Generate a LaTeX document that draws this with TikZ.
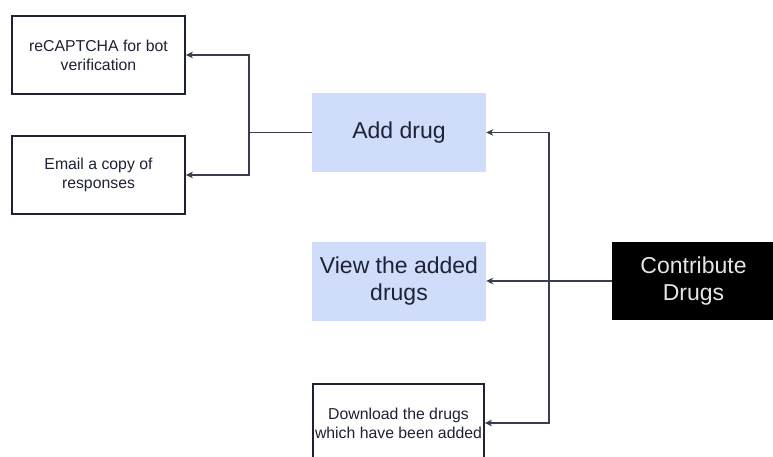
\documentclass[tikz,border=0pt]{standalone}
\usepackage{fontspec}
\setmainfont{Liberation Sans}
\usetikzlibrary{arrows.meta}
\definecolor{ink}{HTML}{1E2235}
\definecolor{wire}{HTML}{3A3D4E}
\definecolor{paleblue}{HTML}{CFDCFA}
\begin{document}
\begin{tikzpicture}[x=1pt,y=-1pt,
  outlinebox/.style={draw=ink,line width=1.8pt,fill=white,inner sep=0pt,
    text=ink,align=center,font=\fontsize{15.8}{19}\selectfont},
  bluebox/.style={fill=paleblue,inner sep=0pt,text=ink,align=center,
    minimum width=174pt,minimum height=79pt,font=\fontsize{23}{27}\selectfont},
  darkbox/.style={fill=black,inner sep=0pt,text=white!90!black,align=center,
    minimum width=163pt,minimum height=78pt,font=\fontsize{23}{27.5}\selectfont},
  wireline/.style={draw=wire,line width=1.1pt},
  arrowline/.style={wireline,-{Stealth[length=7pt,width=6.5pt,inset=2pt]}}]
  \useasboundingbox (0,0) rectangle (773,457);
  \clip (0,0) rectangle (773,457);
  \fill[white] (0,0) rectangle (773,457);

  % left column: options under "Add drug"
  \node[outlinebox,minimum width=173pt,minimum height=78pt] (rc) at (98.5,55)
    {reCAPTCHA for bot\\verification};
  \node[outlinebox,minimum width=173pt,minimum height=78pt] (em) at (98.5,175)
    {Email a copy of\\responses};

  % middle column: actions
  \node[bluebox] (add) at (399,132.5) {Add drug};
  \node[bluebox] (view) at (399,281) {View the added\\drugs};
  \node[outlinebox,minimum width=171pt,minimum height=78pt] (dl) at (398.5,423)
    {Download the drugs\\which have been added};

  % root
  \node[darkbox] (con) at (693.5,281) {Contribute\\Drugs};

  % junction points
  \coordinate (ja) at (249,132.5);
  \coordinate (jc) at (549,281);

  % Add drug branches
  \draw[wireline] (add.west) -- (ja);
  \draw[arrowline] (ja) |- (rc.east);
  \draw[arrowline] (ja) |- (em.east);

  % Contribute Drugs branches
  \draw[arrowline] (con.west) -- (view.east);
  \draw[arrowline] (jc) |- (add.east);
  \draw[arrowline] (jc) |- (dl.east);
\end{tikzpicture}
\end{document}
